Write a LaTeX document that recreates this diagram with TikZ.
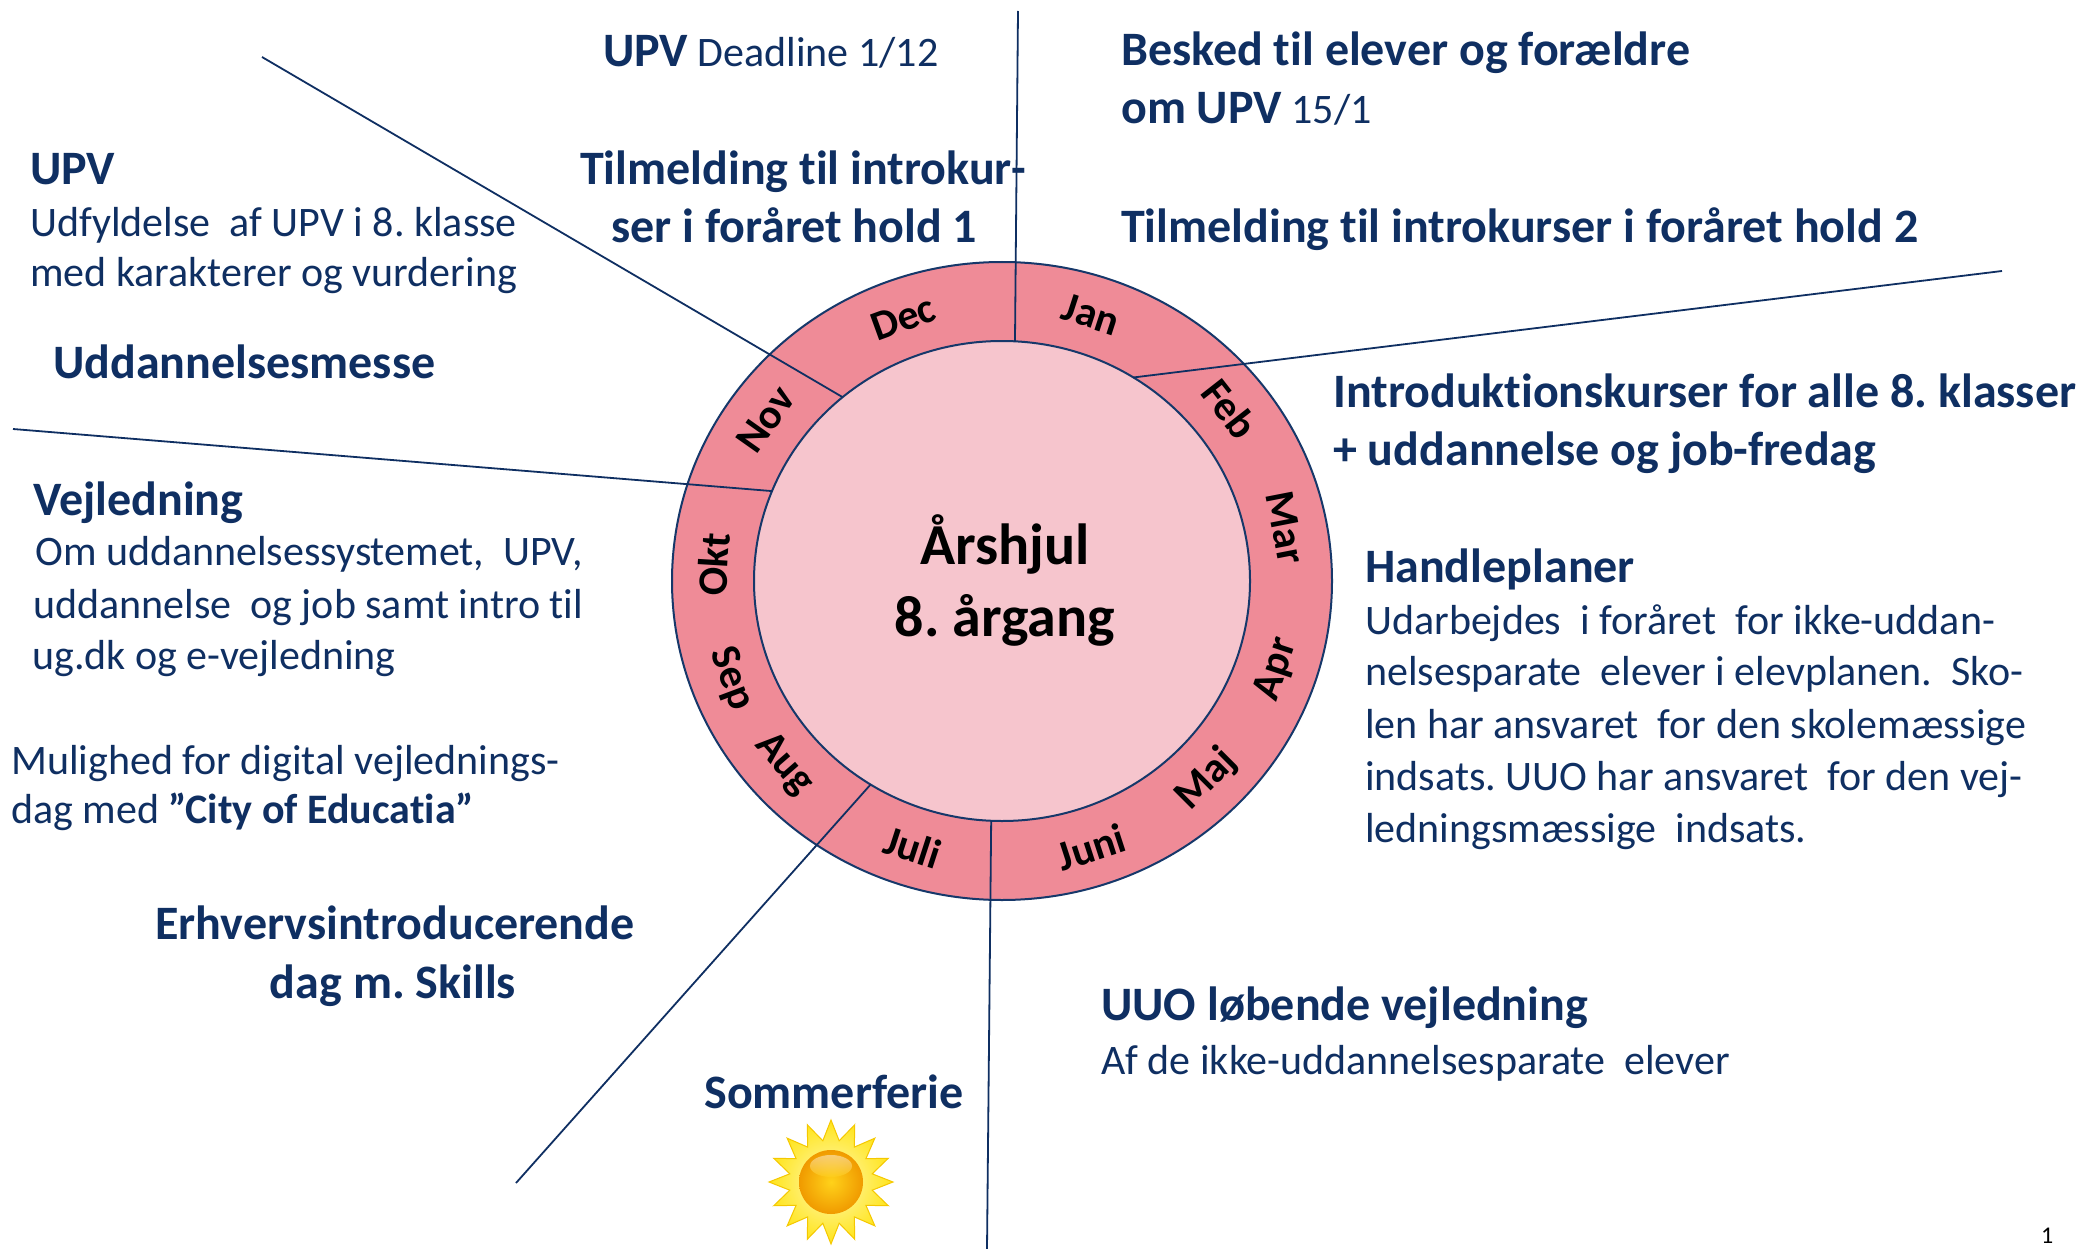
\documentclass[tikz,border=0pt]{standalone}
\usepackage{fontspec}
\setmainfont{Carlito}[Ligatures={NoCommon,NoContextual}]
\usetikzlibrary{calc}
\definecolor{navy}{HTML}{0F2F62}
\definecolor{edgeblue}{HTML}{16386A}
\definecolor{ringpink}{HTML}{EF8B97}
\definecolor{innerpink}{HTML}{F6C5CD}
\definecolor{sunyellow}{HTML}{FFE41A}
\definecolor{sunpale}{HTML}{FFF9B8}
\definecolor{sunedge}{HTML}{F5C800}
\definecolor{coregold}{HTML}{FFD21A}
\definecolor{coreorange}{HTML}{F09A00}
\newcommand\HB[1]{{\fontsize{48}{58}\selectfont\bfseries #1}}
\tikzset{
 head/.style={anchor=base west, inner sep=0pt, text=navy, font=\fontsize{48}{58}\selectfont\bfseries},
 headc/.style={head, anchor=base},
 body/.style={anchor=base west, inner sep=0pt, text=navy, font=\fontsize{42}{52}\selectfont},
 month/.style={inner sep=0pt, text=black, font=\fontsize{42}{50}\selectfont\bfseries},
 conn/.style={draw=navy, line width=1.8pt},
 rim/.style={draw=edgeblue, line width=2pt},
}
\begin{document}
\frenchspacing
\begin{tikzpicture}[x=1pt,y=-1pt]
\useasboundingbox (0,0) rectangle (2083,1249);
\fill[white] (0,0) rectangle (2083,1249);
\coordinate (w) at (1002,581);
% wheel
\fill[ringpink] (w) ellipse [x radius=330, y radius=319];
\draw[rim] (w) ellipse [x radius=330, y radius=319];
\fill[innerpink] (w) ellipse [x radius=248, y radius=240];
\draw[rim] (w) ellipse [x radius=248, y radius=240];
\foreach \m/\a/\r in {Dec/-110/20, Jan/-72/-18, Feb/-38/-52, Mar/-11/-79, Apr/18.4/71.6, Maj/45/45, Juni/72/18, Juli/108/-18, Aug/139/-49, Sep/159.5/-69.5, Okt/-176.6/86.6, Nov/-144.8/54.8}
  \node[month, rotate=\r] (m-\m) at ($(w)+(\a:289 and 280)$) {\m};
\node[inner sep=0pt, align=center, text=black, font=\fontsize{58}{72}\selectfont\bfseries] (centre) at (1005,580) {Årshjul\\8. årgang};
% connectors
\coordinate (a1) at (262,57);   \coordinate (b1) at ($(w)+(-130:248 and 240)$);
\coordinate (a2) at (1018,11);  \coordinate (b2) at ($(w)+(-87:248 and 240)$);
\coordinate (a3) at (2002,271); \coordinate (b3) at ($(w)+(-58:248 and 240)$);
\coordinate (a4) at (13,429);   \coordinate (b4) at ($(w)+(-158:248 and 240)$);
\coordinate (a5) at (516,1183); \coordinate (b5) at ($(w)+(-238:248 and 240)$);
\coordinate (a6) at (987,1249); \coordinate (b6) at ($(w)+(-267.5:248 and 240)$);
\foreach \i in {1,...,6} \draw[conn] (a\i) -- (b\i);
% texts
\node[body] (upvA) at (603,67) {\HB{UPV} Deadline 1/12};
\node[head] (til1a) at (580,185) {Tilmelding til introkur-};
\node[head] (til1b) at (611,243) {ser i foråret hold 1};
\node[head] (besk1) at (1121,66) {Besked til elever og forældre};
\node[body] (besk2) at (1121,124) {\HB{om UPV} 15/1};
\node[head] (til2) at (1121,243) {Tilmelding til introkurser i foråret hold 2};
\node[head] (upvL) at (30,185) {UPV};
\node[body] (upvL1) at (30,237) {Udfyldelse\ \ af UPV i 8. klasse};
\node[body] (upvL2) at (30,287) {med karakterer og vurdering};
\node[head] (messe) at (53,378) {Uddannelsesmesse};
\node[head] (vej) at (33,515) {Vejledning};
\node[body] (vej1) at (35,565) {Om uddannelsessystemet,\ \ UPV,};
\node[body] (vej2) at (33,618) {uddannelse\ \ og job samt intro til};
\node[body] (vej3) at (32,669) {ug.dk og e-vejledning};
\node[body] (mul1) at (11,774) {Mulighed for digital vejlednings-};
\node[body] (mul2) at (11,823) {dag med {\bfseries ”City of Educatia”}};
\node[headc] (erh1) at (395,939) {Erhvervsintroducerende};
\node[headc] (erh2) at (393,998) {dag m. Skills};
\node[headc] (sommer) at (834,1108) {Sommerferie};
\node[head] (intro1) at (1333,407) {Introduktionskurser for alle 8. klasser};
\node[head] (intro2) at (1333,465) {+ uddannelse og job-fredag};
\node[head] (hand) at (1365,582) {Handleplaner};
\node[body] (hand1) at (1365,634) {Udarbejdes\ \ i foråret\ \ for ikke-uddan-};
\node[body] (hand2) at (1365,685) {nelsesparate\ \ elever i elevplanen.\ \ Sko-};
\node[body] (hand3) at (1365,738) {len har ansvaret\ \ for den skolemæssige};
\node[body] (hand4) at (1365,790) {indsats. UUO har ansvaret\ \ for den vej-};
\node[body] (hand5) at (1365,842) {ledningsmæssige\ \ indsats.};
\node[head] (uuo) at (1101,1020) {UUO løbende vejledning};
\node[body] (uuo1) at (1101,1074) {Af de ikke-uddannelsesparate\ \ elever};
\node[anchor=base west, inner sep=0pt, font=\fontsize{24}{28}\selectfont] (pg) at (2041,1243) {1};
% sun
\coordinate (sun) at (831,1182);
\shadedraw[inner color=sunpale, outer color=sunyellow, draw=sunedge, line width=1pt]
  ($(sun)+(90:62)$) \foreach \i in {1,...,31} { -- ($(sun)+({90+\i*11.25}:{ifthenelse(mod(\i,2)==0,62,42)})$) } -- cycle;
\shade[inner color=coregold, outer color=coreorange] (sun) circle (32);
\shade[top color=white, bottom color=coregold, opacity=.45] ($(sun)+(0,-16)$) ellipse [x radius=21, y radius=11];
\end{tikzpicture}
\end{document}
